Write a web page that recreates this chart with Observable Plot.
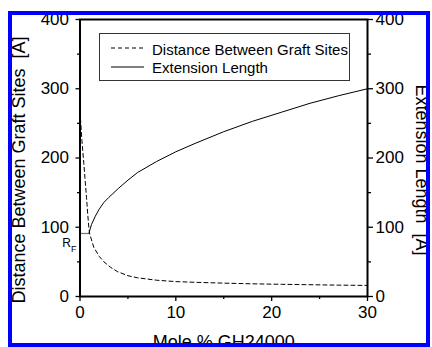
<!DOCTYPE html>
<html><head><meta charset="utf-8">
<script src="https://cdn.jsdelivr.net/npm/d3@7"></script>
<script src="https://cdn.jsdelivr.net/npm/@observablehq/plot@0.6"></script>
<style>
body{margin:0;background:#fff;}
#wrap{position:relative;width:432px;height:347px;overflow:hidden;font-family:Arial,"Liberation Sans",Helvetica,sans-serif;background:#fff;}
#wrap svg{display:block}
#border{position:absolute;left:8px;top:11px;width:422px;height:336px;box-sizing:border-box;border:4.5px solid #0000ff;pointer-events:none}
#legend{position:absolute;left:99px;top:33px;width:251px;height:48px;box-sizing:border-box;border:1px solid #333;background:#fff}
</style></head><body><div id="wrap"></div>
<script>
// Data
const distX = [0.05, 0.2, 0.4, 0.55, 0.68, 0.8, 0.92, 1.02, 1.44, 2, 2.5, 3.2, 3.9, 5, 6, 8, 10, 12, 15, 18, 21, 24, 27, 30];
const distY = [257, 225, 192, 165, 143, 120, 100, 90, 71, 58, 50, 42, 36, 30, 27, 23.5, 21.5, 20.5, 19.3, 18.3, 17.6, 17, 16.4, 16];
const extX = [0.92, 1.2, 1.6, 2, 2.5, 3, 4, 5, 6, 8, 10, 12, 15, 18, 21, 24, 27, 30];
const extY = [91, 104, 116, 126, 136, 143, 156, 168, 179, 195, 209, 221, 238, 253, 266, 279, 290, 300];
const rfPoint = [{x: 0.92, y: 91}];
const yTicks = [0, 100, 200, 300, 400];
const yMinor = [50, 150, 250, 350];
const xTicks = [0, 10, 20, 30];
const xMinor = [5, 15, 25];
const seriesNames = ["Distance Between Graft Sites", "Extension Length"];
const yLabelLeft = "Distance Between Graft Sites  [A]";
const yLabelRight = "Extension Length  [A]";
const xLabel = "Mole % GH24000";

const dist = distX.map((x, i) => ({x, y: distY[i]}));
const ext = extX.map((x, i) => ({x, y: extY[i]}));
const font = 'Arial, "Liberation Sans", Helvetica, sans-serif';

const chart = Plot.plot({
  width: 432, height: 347,
  marginLeft: 79.5, marginRight: 65, marginTop: 19, marginBottom: 51,
  x: {domain: [0, 30]},
  y: {domain: [0, 400]},
  style: {fontFamily: font, fontSize: "17px", color: "#000", background: "transparent", overflow: "visible"},
  marks: [
    Plot.axisY(yTicks, {anchor: "left", tickSize: 4, tickPadding: 7, fontSize: 17, label: null, strokeWidth: 1.3}),
    Plot.axisY(yMinor, {anchor: "left", tickSize: 2.5, text: null, label: null, strokeWidth: 1.3}),
    Plot.axisY(yTicks, {anchor: "right", tickSize: 5, tickPadding: 3, fontSize: 17, label: null, strokeWidth: 1.3}),
    Plot.axisY(yMinor, {anchor: "right", tickSize: 3, text: null, label: null, strokeWidth: 1.3}),
    Plot.axisX(xTicks, {anchor: "bottom", tickSize: 5, tickPadding: 4, fontSize: 17, label: null, strokeWidth: 1.3}),
    Plot.axisX(xMinor, {anchor: "bottom", tickSize: 3, text: null, label: null, strokeWidth: 1.3}),
    Plot.ruleY(rfPoint, {y: "y", x1: 0, x2: "x", stroke: "#777", strokeWidth: 1.2}),
    Plot.line(dist, {x: "x", y: "y", stroke: "#000", strokeWidth: 1, strokeDasharray: "4,3"}),
    Plot.line(ext, {x: "x", y: "y", stroke: "#000", strokeWidth: 1}),
    Plot.frame({stroke: "#000", strokeWidth: 2}),
    Plot.text(rfPoint, {y: "y", frameAnchor: "left", text: () => "R", textAnchor: "end", lineAnchor: "middle", dx: -9, dy: 10, fontSize: 12, fill: "#000"}),
    Plot.text(rfPoint, {y: "y", frameAnchor: "left", text: () => "F", textAnchor: "start", lineAnchor: "middle", dx: -9, dy: 15.5, fontSize: 9, fill: "#000"}),
    Plot.text([yLabelLeft], {frameAnchor: "left", text: d => d, rotate: -90, textAnchor: "middle", lineAnchor: "middle", dx: -60.5, dy: 12, fontSize: 18, fill: "#000"}),
    Plot.text([yLabelRight], {frameAnchor: "right", text: d => d, rotate: 90, textAnchor: "middle", lineAnchor: "middle", dx: 54, dy: 12, fontSize: 18, fill: "#000"}),
    Plot.text([xLabel], {frameAnchor: "bottom", text: d => d, textAnchor: "middle", lineAnchor: "middle", dy: 46, fontSize: 18, fill: "#000"})
  ]
});

const wrap = document.getElementById("wrap");
wrap.appendChild(chart);

// Legend
const legend = document.createElement("div");
legend.id = "legend";
const dashes = ["4,3", null];
legend.innerHTML = `<svg width="249" height="46" style="font-family:${font.replace(/"/g, "'")};font-size:15px">` +
  seriesNames.map((name, i) => {
    const ly = i === 0 ? 14 : 33;
    const ty = i === 0 ? 21 : 39;
    return `<line x1="11" x2="44" y1="${ly}" y2="${ly}" stroke="#000" stroke-width="1" ${dashes[i] ? `stroke-dasharray="${dashes[i]}"` : ""}/>` +
      `<text x="52" y="${ty}" fill="#000">${name}</text>`;
  }).join("") + `</svg>`;
wrap.appendChild(legend);

const border = document.createElement("div");
border.id = "border";
wrap.appendChild(border);
</script>
</body></html>
